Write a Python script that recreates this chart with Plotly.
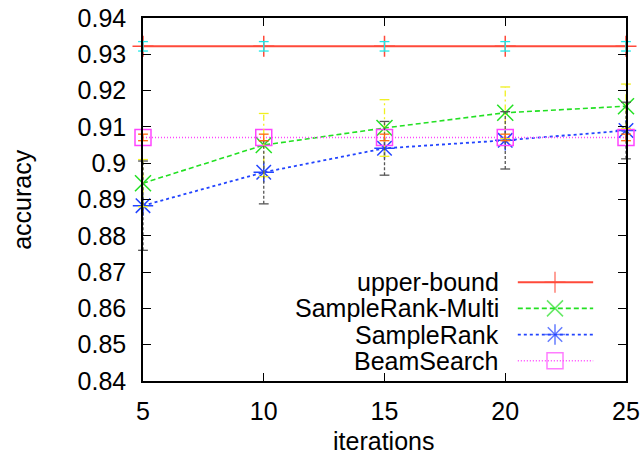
import plotly.graph_objects as go

# ---------------- data ----------------
iterations = [5, 10, 15, 20, 25]

upper_bound = [0.9322, 0.9322, 0.9322, 0.9322, 0.9322]
upper_bound_err = [0.0013, 0.0013, 0.0013, 0.0013, 0.0013]

samplerank_multi = [0.8945, 0.9050, 0.9097, 0.9139, 0.9157]
samplerank_multi_err = [0.0065, 0.0087, 0.0078, 0.0071, 0.0061]

samplerank = [0.8883, 0.8975, 0.9041, 0.9063, 0.9090]
samplerank_err = [0.0123, 0.0087, 0.0074, 0.0079, 0.0078]

beamsearch = [0.9071, 0.9071, 0.9071, 0.9071, 0.9071]
beamsearch_err = [0.0009, 0.0009, 0.0009, 0.0009, 0.0009]

series_names = ["upper-bound", "SampleRank-Multi", "SampleRank", "BeamSearch"]

y_tick_vals = [0.84, 0.85, 0.86, 0.87, 0.88, 0.89, 0.90, 0.91, 0.92, 0.93, 0.94]
y_tick_text = ["0.84", "0.85", "0.86", "0.87", "0.88", "0.89", "0.9", "0.91", "0.92", "0.93", "0.94"]
x_tick_vals = [5, 10, 15, 20, 25]
x_tick_text = ["5", "10", "15", "20", "25"]

# ---------------- styles ----------------
FONT = "Liberation Sans, Arial, Helvetica, sans-serif"
styles = [
    dict(color="#ff4a3a", dash="solid", width=2.0, symbol="cross-thin-open", size=15),
    dict(color="#22e022", dash="5px,3px", width=1.6, symbol="x-thin-open", size=16),
    dict(color="#2244ff", dash="3px,3px", width=1.8, symbol="asterisk-open", size=17),
    dict(color="#ff44ff", dash="1px,2px", width=1.5, symbol="square-open", size=16),
]
err_styles = [
    dict(color="#22e8e8", dash="solid"),
    dict(color="#f0f020", dash="6px,3px,2px,3px"),
    dict(color="#555555", dash="3px,2px"),
    dict(color="#ff6a10", dash="solid"),
]

fig = go.Figure()

values = [upper_bound, samplerank_multi, samplerank, beamsearch]
errors = [upper_bound_err, samplerank_multi_err, samplerank_err, beamsearch_err]

for vals, st in zip(values, styles):
    fig.add_trace(go.Scatter(
        x=iterations, y=vals, mode="lines+markers", showlegend=False, cliponaxis=False,
        line=dict(color=st["color"], dash=st["dash"], width=st["width"]),
        marker=dict(symbol=st["symbol"], size=st["size"], color=st["color"],
                    line=dict(color=st["color"], width=1.5)),
        hoverinfo="skip"))

for vals, errs, st in zip(values, errors, err_styles):
    sx, sy, cx, cy = [], [], [], []
    for x, y, e in zip(iterations, vals, errs):
        sx += [x, x, None]
        sy += [y - e, y + e, None]
        cx += [x, x]
        cy += [y - e, y + e]
    fig.add_trace(go.Scatter(
        x=sx, y=sy, mode="lines", showlegend=False, cliponaxis=False,
        line=dict(color=st["color"], dash=st["dash"], width=1.3), hoverinfo="skip"))
    fig.add_trace(go.Scatter(
        x=cx, y=cy, mode="markers", showlegend=False, cliponaxis=False,
        marker=dict(symbol="line-ew-open", size=7, color=st["color"],
                    line=dict(color=st["color"], width=1.3)),
        hoverinfo="skip"))

# ---------------- legend (gnuplot style: text then sample) ----------------
legend_rows = [0.272, 0.200, 0.128, 0.056]
for name, st, ry in zip(series_names, styles, legend_rows):
    fig.add_trace(go.Scatter(
        x=[0.776, 0.853, 0.932], y=[ry, ry, ry], xaxis="x2", yaxis="y2",
        mode="lines+markers", showlegend=False, cliponaxis=False,
        line=dict(color=st["color"], dash=st["dash"], width=st["width"]),
        marker=dict(symbol=st["symbol"], size=[0, st["size"], 0], color=st["color"],
                    line=dict(color=st["color"], width=1.5)),
        hoverinfo="skip"))
    fig.add_annotation(x=0.741, y=ry, xref="paper", yref="paper", text=name,
                       showarrow=False, xanchor="right", yanchor="middle",
                       font=dict(family=FONT, size=25, color="black"))

# axis titles
fig.add_annotation(x=-0.252, y=0.5, xref="paper", yref="paper", text="accuracy",
                   showarrow=False, textangle=-90, xanchor="center", yanchor="middle",
                   font=dict(family=FONT, size=25, color="black"))
fig.add_annotation(x=0.497, y=-0.165, xref="paper", yref="paper", text="iterations",
                   showarrow=False, xanchor="center", yanchor="middle",
                   font=dict(family=FONT, size=25, color="black"))

axis_common = dict(showgrid=False, zeroline=False, showline=True, linecolor="black",
                   linewidth=1.5, ticks="inside", ticklen=8, tickwidth=1.2,
                   tickcolor="black", mirror="ticks", automargin=False,
                   tickfont=dict(family=FONT, size=25, color="black"))

fig.update_layout(
    width=644, height=462,
    margin=dict(l=143, r=18, t=18, b=81),
    paper_bgcolor="white", plot_bgcolor="white",
    xaxis=dict(range=[5, 25], tickvals=x_tick_vals, ticktext=x_tick_text,
               ticklabelstandoff=7, **axis_common),
    yaxis=dict(range=[0.84, 0.94], tickvals=y_tick_vals, ticktext=y_tick_text,
               ticklabelstandoff=10, **axis_common),
    xaxis2=dict(overlaying="x", range=[0, 1], visible=False),
    yaxis2=dict(overlaying="y", range=[0, 1], visible=False),
)

# remove the default page margin so the figure sits at the window's top-left corner
fig.write_html("out.html",
               config={"displayModeBar": False},
               post_script="document.body.style.margin='0';document.body.style.overflow='hidden';")
